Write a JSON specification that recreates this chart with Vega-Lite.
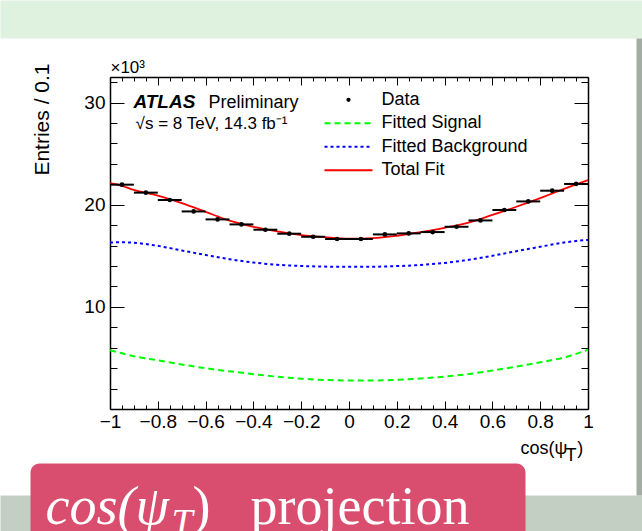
{
  "$schema": "https://vega.github.io/schema/vega-lite/v6.json",
  "padding": 0,
  "background": "white",
  "width": 478,
  "height": 332,
  "config": {
    "font": "Liberation Sans",
    "view": {"stroke": null},
    "axis": {"labelFont": "Liberation Sans", "titleFont": "Liberation Sans", "labelColor": "black", "titleColor": "black", "tickColor": "black", "domainColor": "black", "grid": false, "tickWidth": 1, "domainWidth": 1.5, "labelFontSize": 19, "titleFontSize": 19, "titleFontWeight": "normal"}
  },
  "datasets": {
    "pts": [
      {"x": -0.95, "lo": -1.0, "hi": -0.9, "n": 21.96},
      {"x": -0.85, "lo": -0.9, "hi": -0.8, "n": 21.18},
      {"x": -0.75, "lo": -0.8, "hi": -0.7, "n": 20.46},
      {"x": -0.65, "lo": -0.7, "hi": -0.6, "n": 19.34},
      {"x": -0.55, "lo": -0.6, "hi": -0.5, "n": 18.56},
      {"x": -0.45, "lo": -0.5, "hi": -0.4, "n": 18.07},
      {"x": -0.35, "lo": -0.4, "hi": -0.3, "n": 17.55},
      {"x": -0.25, "lo": -0.3, "hi": -0.2, "n": 17.16},
      {"x": -0.15, "lo": -0.2, "hi": -0.1, "n": 16.86},
      {"x": -0.05, "lo": -0.1, "hi": 0.0, "n": 16.64},
      {"x": 0.05, "lo": 0.0, "hi": 0.1, "n": 16.64},
      {"x": 0.15, "lo": 0.1, "hi": 0.2, "n": 17.09},
      {"x": 0.25, "lo": 0.2, "hi": 0.3, "n": 17.19},
      {"x": 0.35, "lo": 0.3, "hi": 0.4, "n": 17.32},
      {"x": 0.45, "lo": 0.4, "hi": 0.5, "n": 17.84},
      {"x": 0.55, "lo": 0.5, "hi": 0.6, "n": 18.46},
      {"x": 0.65, "lo": 0.6, "hi": 0.7, "n": 19.48},
      {"x": 0.75, "lo": 0.7, "hi": 0.8, "n": 20.32},
      {"x": 0.85, "lo": 0.8, "hi": 0.9, "n": 21.37},
      {"x": 0.95, "lo": 0.9, "hi": 1.0, "n": 22.03}
    ],
    "sig": [
      {"x": -1.0, "y": 5.75}, {"x": -0.95, "y": 5.45}, {"x": -0.9, "y": 5.17}, {"x": -0.8, "y": 4.77},
      {"x": -0.7, "y": 4.36}, {"x": -0.6, "y": 3.99}, {"x": -0.5, "y": 3.69}, {"x": -0.4, "y": 3.41},
      {"x": -0.3, "y": 3.16}, {"x": -0.2, "y": 2.97}, {"x": -0.1, "y": 2.84}, {"x": 0.0, "y": 2.79},
      {"x": 0.1, "y": 2.79}, {"x": 0.2, "y": 2.86}, {"x": 0.3, "y": 2.99}, {"x": 0.4, "y": 3.17},
      {"x": 0.5, "y": 3.42}, {"x": 0.6, "y": 3.77}, {"x": 0.7, "y": 4.15}, {"x": 0.8, "y": 4.57},
      {"x": 0.9, "y": 5.05}, {"x": 0.95, "y": 5.4}, {"x": 1.0, "y": 5.8}
    ],
    "bkg": [
      {"x": -1.0, "y": 16.3}, {"x": -0.95, "y": 16.32}, {"x": -0.9, "y": 16.28}, {"x": -0.85, "y": 16.15},
      {"x": -0.8, "y": 15.97}, {"x": -0.7, "y": 15.52}, {"x": -0.6, "y": 15.08}, {"x": -0.5, "y": 14.66},
      {"x": -0.4, "y": 14.34}, {"x": -0.3, "y": 14.12}, {"x": -0.2, "y": 14.0}, {"x": -0.1, "y": 13.94},
      {"x": 0.0, "y": 13.92}, {"x": 0.1, "y": 13.93}, {"x": 0.2, "y": 13.99}, {"x": 0.3, "y": 14.1},
      {"x": 0.4, "y": 14.3}, {"x": 0.5, "y": 14.6}, {"x": 0.6, "y": 15.0}, {"x": 0.7, "y": 15.45},
      {"x": 0.8, "y": 15.88}, {"x": 0.85, "y": 16.1}, {"x": 0.9, "y": 16.3}, {"x": 0.95, "y": 16.45},
      {"x": 1.0, "y": 16.55}
    ],
    "tot": [
      {"x": -1.0, "y": 22.1}, {"x": -0.95, "y": 21.85}, {"x": -0.9, "y": 21.44}, {"x": -0.8, "y": 20.88},
      {"x": -0.7, "y": 20.15}, {"x": -0.6, "y": 19.3}, {"x": -0.5, "y": 18.44}, {"x": -0.4, "y": 17.84},
      {"x": -0.3, "y": 17.38}, {"x": -0.2, "y": 17.03}, {"x": -0.1, "y": 16.82}, {"x": 0.0, "y": 16.68},
      {"x": 0.1, "y": 16.73}, {"x": 0.2, "y": 16.96}, {"x": 0.3, "y": 17.31}, {"x": 0.4, "y": 17.74},
      {"x": 0.5, "y": 18.25}, {"x": 0.6, "y": 19.0}, {"x": 0.7, "y": 19.8}, {"x": 0.8, "y": 20.65},
      {"x": 0.9, "y": 21.54}, {"x": 0.95, "y": 21.98}, {"x": 1.0, "y": 22.4}
    ],
    "notes": [
      {"t": "×10³"},
      {"t": "ATLAS"},
      {"t": "Preliminary"},
      {"t": "√s = 8 TeV, 14.3 fb⁻¹"}
    ],
    "panels": [
      {"panel": "header"},
      {"panel": "footer"},
      {"panel": "edge"},
      {"panel": "banner"}
    ],
    "box": [
      {"t": "cos(ψ"},
      {"t": "T"},
      {"t": ")"},
      {"t": "projection"}
    ]
  },
  "resolve": {"axis": {"x": "independent", "y": "independent"}},
  "layer": [
    {
      "data": {"name": "panels"},
      "transform": [{"filter": "datum.panel === 'header'"}],
      "mark": {"type": "rect", "color": "#dff1df", "clip": false},
      "encoding": {
        "x": {"datum": -1.4582, "type": "quantitative", "axis": null},
        "x2": {"datum": 1.23},
        "y": {"datum": 39.99, "type": "quantitative", "axis": null},
        "y2": {"datum": 36.27}
      }
    },
    {
      "data": {"name": "panels"},
      "transform": [{"filter": "datum.panel === 'footer'"}],
      "mark": {"type": "rect", "color": "#c3cfc3", "clip": false},
      "encoding": {
        "x": {"datum": -1.4582, "type": "quantitative", "axis": null},
        "x2": {"datum": 1.23},
        "y": {"datum": -8.47, "type": "quantitative", "axis": null},
        "y2": {"datum": -14.8}
      }
    },
    {
      "data": {"name": "panels"},
      "transform": [{"filter": "datum.panel === 'edge'"}],
      "mark": {"type": "rect", "color": "#a3ada3", "clip": false},
      "encoding": {
        "x": {"datum": 1.2029, "type": "quantitative", "axis": null},
        "x2": {"datum": 1.23},
        "y": {"datum": 36.27, "type": "quantitative", "axis": null},
        "y2": {"datum": -8.47}
      }
    },
    {
      "data": {"name": "panels"},
      "transform": [{"filter": "datum.panel === 'banner'"}],
      "mark": {"type": "rect", "color": "#d94e6e", "cornerRadius": 9, "clip": false},
      "encoding": {
        "x": {"datum": -1.3326, "type": "quantitative", "axis": null},
        "x2": {"datum": 0.7385},
        "y": {"datum": -5.335, "type": "quantitative", "axis": null},
        "y2": {"datum": -14.8}
      }
    },
    {
      "data": {"name": "sig"},
      "mark": {"type": "line", "color": "#00ff00", "strokeWidth": 2, "strokeDash": [6, 4], "interpolate": "monotone"},
      "encoding": {
        "x": {"field": "x", "type": "quantitative", "scale": {"domain": [-1, 1], "nice": false, "zero": false},
          "axis": {"orient": "top", "values": [-1, -0.8, -0.6, -0.4, -0.2, 0, 0.2, 0.4, 0.6, 0.8, 1], "tickSize": -8, "labels": false, "domain": true, "title": null}},
        "y": {"field": "y", "type": "quantitative", "scale": {"domain": [0, 32.5], "nice": false},
          "axis": {"orient": "right", "values": [10, 20, 30], "tickSize": -14, "labels": false, "domain": true, "title": null}},
        "color": {"datum": "Fitted Signal", "type": "nominal",
          "scale": {"domain": ["Data", "Fitted Signal", "Fitted Background", "Total Fit"], "range": ["black", "#00ff00", "#0000ff", "#ff0000"]},
          "legend": {"orient": "none", "legendX": 229.5, "legendY": 13.8, "title": null, "padding": 0,
            "symbolType": "stroke", "symbolSize": 2304, "symbolStrokeWidth": 2,
            "labelFontSize": 18, "labelFont": "Liberation Sans", "labelColor": "black", "labelOffset": 24, "rowPadding": 5.5,
            "encode": {"symbols": {"update": {
              "shape": {"signal": "datum.value === 'Data' ? 'circle' : 'stroke'"},
              "size": {"signal": "datum.value === 'Data' ? 18 : 2304"},
              "fill": {"signal": "datum.value === 'Data' ? 'black' : 'transparent'"},
              "strokeDash": {"signal": "datum.value === 'Fitted Signal' ? [6, 4] : datum.value === 'Fitted Background' ? [3, 3] : [1, 0]"},
              "strokeWidth": {"signal": "datum.value === 'Data' ? 0 : 2"}
            }}}}
        }
      }
    },
    {
      "data": {"name": "bkg"},
      "mark": {"type": "line", "color": "#0000ff", "strokeWidth": 2, "strokeDash": [3, 3], "interpolate": "monotone"},
      "encoding": {
        "x": {"field": "x", "type": "quantitative", "axis": null},
        "y": {"field": "y", "type": "quantitative", "axis": null},
        "color": {"datum": "Fitted Background", "type": "nominal"}
      }
    },
    {
      "data": {"name": "tot"},
      "mark": {"type": "line", "color": "#ff0000", "strokeWidth": 1.8, "interpolate": "monotone"},
      "encoding": {
        "x": {"field": "x", "type": "quantitative", "axis": null},
        "y": {"field": "y", "type": "quantitative", "axis": null},
        "color": {"datum": "Total Fit", "type": "nominal"}
      }
    },
    {
      "data": {"name": "pts"},
      "mark": {"type": "rule", "color": "black", "strokeWidth": 2},
      "encoding": {
        "x": {"field": "lo", "type": "quantitative",
          "axis": {"orient": "bottom", "values": [-0.95, -0.9, -0.85, -0.75, -0.7, -0.65, -0.55, -0.5, -0.45, -0.35, -0.3, -0.25, -0.15, -0.1, -0.05, 0.05, 0.1, 0.15, 0.25, 0.3, 0.35, 0.45, 0.5, 0.55, 0.65, 0.7, 0.75, 0.85, 0.9, 0.95], "tickSize": -4, "labels": false, "domain": false, "title": null}},
        "x2": {"field": "hi"},
        "y": {"field": "n", "type": "quantitative",
          "axis": {"orient": "left", "values": [2, 4, 6, 8, 12, 14, 16, 18, 22, 24, 26, 28, 32], "tickSize": -7, "labels": false, "domain": false, "title": null}}
      }
    },
    {
      "data": {"name": "pts"},
      "mark": {"type": "point", "filled": true, "size": 22, "opacity": 1},
      "encoding": {
        "x": {"field": "x", "type": "quantitative",
          "axis": {"orient": "bottom", "values": [-1, -0.8, -0.6, -0.4, -0.2, 0, 0.2, 0.4, 0.6, 0.8, 1], "format": "~g", "tickSize": -8, "labelPadding": 11, "labelFlush": false, "labelOverlap": false, "labelBound": false, "domain": true,
            "title": ["cos(ψ\u00a0\u00a0)", "\u200b\u00a0\u00a0\u00a0\u00a0\u00a0\u00a0\u00a0\u00a0\u00a0T"], "titleFontSize": 18, "titleAlign": "left", "titleX": 410, "titlePadding": 8, "titleLineHeight": 7}},
        "y": {"field": "n", "type": "quantitative",
          "axis": {"orient": "left", "values": [10, 20, 30], "tickSize": -14, "labelPadding": 19, "domain": true,
            "title": "Entries / 0.1", "titleFontSize": 21, "titleAnchor": "end", "titleAlign": "right", "titleY": -14, "titlePadding": 31}},
        "color": {"datum": "Data", "type": "nominal"}
      }
    },
    {
      "data": {"name": "notes"},
      "transform": [{"filter": "datum.t === 'ATLAS'"}],
      "mark": {"type": "text", "align": "left", "baseline": "alphabetic", "fontSize": 19, "fontWeight": "bold", "fontStyle": "italic", "font": "Liberation Sans", "color": "black"},
      "encoding": {
        "x": {"datum": -0.902, "type": "quantitative",
          "axis": {"orient": "top", "values": [-0.95, -0.9, -0.85, -0.75, -0.7, -0.65, -0.55, -0.5, -0.45, -0.35, -0.3, -0.25, -0.15, -0.1, -0.05, 0.05, 0.1, 0.15, 0.25, 0.3, 0.35, 0.45, 0.5, 0.55, 0.65, 0.7, 0.75, 0.85, 0.9, 0.95], "tickSize": -4, "labels": false, "domain": false, "title": null}},
        "y": {"datum": 29.45, "type": "quantitative",
          "axis": {"orient": "right", "values": [2, 4, 6, 8, 12, 14, 16, 18, 22, 24, 26, 28, 32], "tickSize": -7, "labels": false, "domain": false, "title": null}},
        "text": {"field": "t"}
      }
    },
    {
      "data": {"name": "notes"},
      "transform": [{"filter": "datum.t === '×10³'"}],
      "mark": {"type": "text", "align": "left", "baseline": "alphabetic", "fontSize": 17, "font": "Liberation Sans", "color": "black", "clip": false},
      "encoding": {
        "x": {"datum": -0.998, "type": "quantitative", "axis": null},
        "y": {"datum": 32.94, "type": "quantitative", "axis": null},
        "text": {"field": "t"}
      }
    },
    {
      "data": {"name": "notes"},
      "transform": [{"filter": "datum.t === 'Preliminary'"}],
      "mark": {"type": "text", "align": "left", "baseline": "alphabetic", "fontSize": 18, "font": "Liberation Sans", "color": "black"},
      "encoding": {
        "x": {"datum": -0.588, "type": "quantitative", "axis": null},
        "y": {"datum": 29.45, "type": "quantitative", "axis": null},
        "text": {"field": "t"}
      }
    },
    {
      "data": {"name": "notes"},
      "transform": [{"filter": "indexof(datum.t, 'TeV') >= 0"}],
      "mark": {"type": "text", "align": "left", "baseline": "alphabetic", "fontSize": 17, "font": "Liberation Sans", "color": "black"},
      "encoding": {
        "x": {"datum": -0.893, "type": "quantitative", "axis": null},
        "y": {"datum": 27.4, "type": "quantitative", "axis": null},
        "text": {"field": "t"}
      }
    },
    {
      "data": {"name": "box"},
      "transform": [{"filter": "datum.t === 'cos(ψ'"}],
      "mark": {"type": "text", "align": "left", "baseline": "alphabetic", "font": "Liberation Serif", "fontSize": 54, "fontStyle": "italic", "color": "white", "clip": false},
      "encoding": {
        "x": {"datum": -1.2699, "type": "quantitative", "axis": null},
        "y": {"datum": -11.306, "type": "quantitative", "axis": null},
        "text": {"field": "t"}
      }
    },
    {
      "data": {"name": "box"},
      "transform": [{"filter": "datum.t === 'T'"}],
      "mark": {"type": "text", "align": "left", "baseline": "alphabetic", "font": "Liberation Serif", "fontSize": 38, "fontStyle": "italic", "color": "white", "clip": false},
      "encoding": {
        "x": {"datum": -0.7427, "type": "quantitative", "axis": null},
        "y": {"datum": -12.29, "type": "quantitative", "axis": null},
        "text": {"field": "t"}
      }
    },
    {
      "data": {"name": "box"},
      "transform": [{"filter": "datum.t === ')'"}],
      "mark": {"type": "text", "align": "left", "baseline": "alphabetic", "font": "Liberation Serif", "fontSize": 54, "color": "white", "clip": false},
      "encoding": {
        "x": {"datum": -0.6548, "type": "quantitative", "axis": null},
        "y": {"datum": -11.306, "type": "quantitative", "axis": null},
        "text": {"field": "t"}
      }
    },
    {
      "data": {"name": "box"},
      "transform": [{"filter": "datum.t === 'projection'"}],
      "mark": {"type": "text", "align": "left", "baseline": "alphabetic", "font": "Liberation Serif", "fontSize": 54, "color": "white", "clip": false},
      "encoding": {
        "x": {"datum": -0.4121, "type": "quantitative", "axis": null},
        "y": {"datum": -11.306, "type": "quantitative", "axis": null},
        "text": {"field": "t"}
      }
    }
  ]
}
